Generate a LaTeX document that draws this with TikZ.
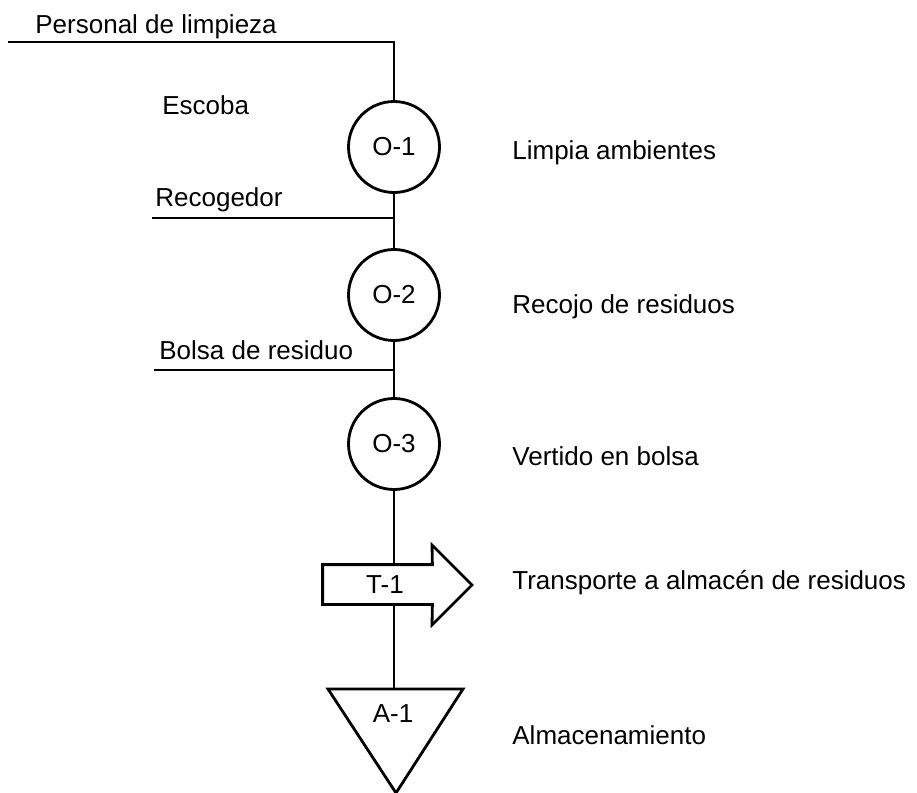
\documentclass[tikz,border=0pt]{standalone}
\usepackage{fontspec}
\setmainfont{Liberation Sans}
\usetikzlibrary{positioning}

\begin{document}
\begin{tikzpicture}[
  x=0.5pt, y=-0.5pt,
  every node/.style={font=\fontsize{13}{15}\selectfont},
  op/.style={draw, circle, line width=1.4pt, minimum size=45.5pt, inner sep=0pt},
  tbody/.style={minimum width=54.5pt, minimum height=19.5pt, inner sep=0pt},
  shapeline/.style={line width=1.4pt, line join=miter},
  line/.style={line width=0.6pt},
  lbl/.style={anchor=base west, inner sep=0pt}
]
\useasboundingbox (0,0) rectangle (917,793);

% operaciones
\node[op] (o1) at (394,147) {O-1};
\node[op] (o2) at (394,295) {O-2};
\node[op] (o3) at (394,444) {O-3};

% transporte
\node[tbody] (t1) at (377.5,584.5) {};
\draw[shapeline] (t1.north west) -- (t1.north east) -- (432,545) -- (472,585)
  -- (432,625) -- (t1.south east) -- (t1.south west) -- cycle;
\node at (385,585) {T-1};

% almacenamiento
\coordinate (a1) at (394,689);
\draw[shapeline] (328,689) -- (463,689) -- (396,793) -- cycle;
\node[anchor=base] (a1txt) at (393,722) {A-1};

% entradas
\coordinate (pl) at (8,42);
\coordinate (top) at (394,42);
\coordinate (rec) at (152,218);
\coordinate (bol) at (154,370);

\draw[line] (pl) -- (top) -- (o1);
\draw[line] (o1) -- (o2);
\draw[line] (o2) -- (o3);
\draw[line] (o3) -- (o3 |- t1.north);
\draw[line] (o3 |- t1.south) -- (a1);
\draw[line] (rec) -- (rec -| o1);
\draw[line] (bol) -- (bol -| o2);

% textos izquierda
\node[lbl] (tpl) at (35,33) {Personal de limpieza};
\node[lbl] (tesc) at (162,114) {Escoba};
\node[lbl] (trec) at (155,206) {Recogedor};
\node[lbl] (tbol) at (159,359) {Bolsa de residuo};

% textos derecha
\node[lbl] (d1) at (512,159) {Limpia ambientes};
\node[lbl] (d2) at (512,313) {Recojo de residuos};
\node[lbl] (d3) at (512,465) {Vertido en bolsa};
\node[lbl] (d4) at (512,589) {Transporte a almacén de residuos};
\node[lbl] (d5) at (512,744) {Almacenamiento};
\end{tikzpicture}
\end{document}
